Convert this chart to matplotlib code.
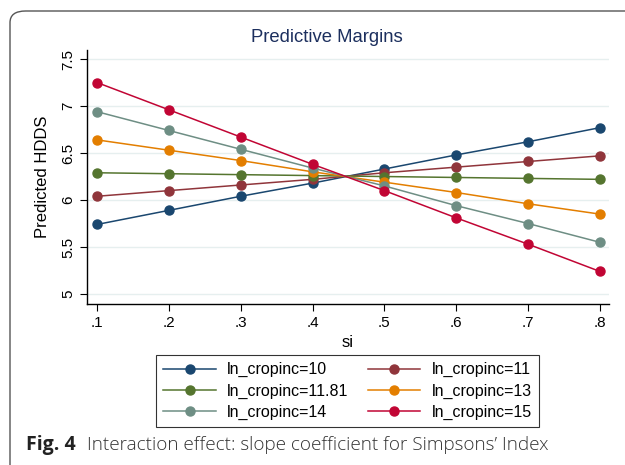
import matplotlib
matplotlib.use("Agg")
import matplotlib.pyplot as plt
from matplotlib.patches import FancyBboxPatch

# predictive margins
si = [0.1, 0.2, 0.3, 0.4, 0.5, 0.6, 0.7, 0.8]
x_ticklabels = [".1", ".2", ".3", ".4", ".5", ".6", ".7", ".8"]
y_ticks = [5, 5.5, 6, 6.5, 7, 7.5]
y_ticklabels = ["5", "5.5", "6", "6.5", "7", "7.5"]

inc_10 = [5.74, 5.89, 6.04, 6.18, 6.33, 6.48, 6.62, 6.77]
inc_11 = [6.04, 6.10, 6.16, 6.22, 6.29, 6.35, 6.41, 6.47]
inc_1181 = [6.29, 6.28, 6.27, 6.26, 6.25, 6.24, 6.23, 6.22]
inc_13 = [6.64, 6.53, 6.42, 6.30, 6.19, 6.08, 5.96, 5.85]
inc_14 = [6.94, 6.74, 6.54, 6.34, 6.15, 5.94, 5.75, 5.55]
inc_15 = [7.25, 6.96, 6.67, 6.38, 6.10, 5.81, 5.53, 5.24]

series = [
    ("ln_cropinc=10", inc_10, "#1a476f"),
    ("ln_cropinc=11", inc_11, "#90353b"),
    ("ln_cropinc=11.81", inc_1181, "#55752f"),
    ("ln_cropinc=13", inc_13, "#e37e00"),
    ("ln_cropinc=14", inc_14, "#6e8e84"),
    ("ln_cropinc=15", inc_15, "#c10534"),
]

plt.rcParams["font.family"] = ["Liberation Sans", "DejaVu Sans"]

fig = plt.figure(figsize=(6.25, 4.65), dpi=100)

# rounded panel frame, running off the right and bottom edges
frame = FancyBboxPatch((10 / 625, -0.05), 1.2, 1 - 11 / 465 + 0.05,
                       boxstyle="round,pad=0,rounding_size=0.025",
                       transform=fig.transFigure, fill=False,
                       edgecolor="#555555", linewidth=1.0)
fig.patches.append(frame)

ax = fig.add_axes([87 / 625, 1 - 304 / 465, (609 - 87) / 625, (304 - 50) / 465])

for label, vals, col in series:
    ax.plot(si, vals, color=col, marker="o", markersize=6.5, linewidth=1.1, label=label)

ax.set_xlim(0.0861, 0.8125)
ax.set_ylim(4.894, 7.596)
ax.set_xticks(si)
ax.set_xticklabels(x_ticklabels)
ax.set_yticks(y_ticks)
ax.set_yticklabels(y_ticklabels, rotation=90, va="center")
ax.tick_params(axis="both", labelsize=11, length=5, width=0.8, color="black")
ax.grid(axis="y", color="#e6efef", linewidth=1.0)
ax.set_axisbelow(True)
for s in ["top", "right"]:
    ax.spines[s].set_visible(False)
for s in ["left", "bottom"]:
    ax.spines[s].set_linewidth(1.0)
    ax.spines[s].set_color("black")

ax.set_xlabel("si", fontsize=12, labelpad=4)
ax.set_ylabel("Predicted HDDS", fontsize=12, labelpad=8)

fig.text(327 / 625, 1 - 37 / 465, "Predictive Margins", ha="center", va="center",
         fontsize=13.3, color="#1c2f5e")

# legend in two columns, filled row by row
order = [0, 2, 4, 1, 3, 5]
handles, labels = ax.get_legend_handles_labels()
leg = fig.legend([handles[i] for i in order], [labels[i] for i in order],
                 ncol=2, loc="center", bbox_to_anchor=(347.5 / 625, 1 - 391 / 465),
                 fontsize=11.5, frameon=True, fancybox=False, edgecolor="black",
                 handlelength=3.3, columnspacing=1.2, labelspacing=0.38,
                 borderpad=0.45, handletextpad=0.7)
leg.get_frame().set_linewidth(0.8)

fig.text(26 / 625, 1 - 445 / 465, "Fig. 4", fontsize=14, fontweight="bold",
         family="Open Sans", ha="left", va="center", color="#222222")
fig.text(87 / 625, 1 - 445 / 465, "Interaction effect: slope coefficient for Simpsons\u2019 Index",
         fontsize=13.6, family="Open Sans", fontweight="light", ha="left", va="center",
         color="#333333")

fig.savefig("out.png", dpi=100)
